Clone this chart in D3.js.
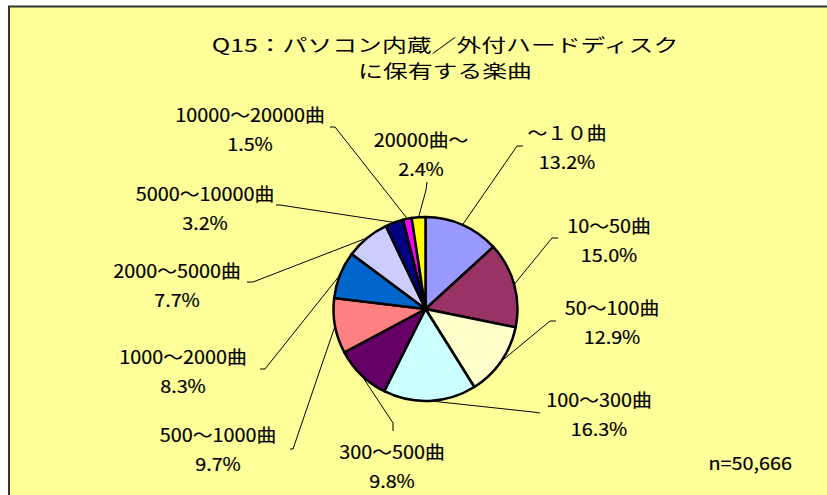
<!DOCTYPE html>
<html>
<head>
<meta charset="utf-8">
<script src="https://cdn.jsdelivr.net/npm/d3@7"></script>
<style>
  body { margin: 0; background: #fff; }
  text { font-family: "Noto Sans CJK JP", "Noto Sans", sans-serif; fill: #000; }
</style>
</head>
<body>
<svg id="chart" width="827" height="495"></svg>
<script>
// 区分と構成比（%）
const categories = ["～１０曲", "10～50曲", "50～100曲", "100～300曲", "300～500曲",
  "500～1000曲", "1000～2000曲", "2000～5000曲", "5000～10000曲", "10000～20000曲", "20000曲～"];
const shares = [13.2, 15.0, 12.9, 16.3, 9.8, 9.7, 8.3, 7.7, 3.2, 1.5, 2.4];
const sliceColors = ["#9999FF", "#993366", "#FFFFCC", "#CCFFFF", "#660066",
  "#FF8080", "#0066CC", "#CCCCFF", "#000080", "#FF00FF", "#FFFF00"];
const titleLines = ["Q15：パソコン内蔵／外付ハードディスク", "に保有する楽曲"];
const sampleNote = "n=50,666";

// ラベル位置（中心x, 1行目y）と引き出し線の折れ点
const labelPos = [
  [567, 140, [[523, 146], [517, 146]]],
  [609, 233, [[558, 238], [552, 238]]],
  [612, 315, [[556, 321], [550, 321]]],
  [599, 407, [[540, 413], [533, 412]]],
  [392, 459, [[393, 431], [393, 423]]],
  [218, 442, [[290, 449], [293, 449]]],
  [183, 364, [[260, 369], [265, 369]]],
  [177, 278, [[247, 282], [253, 282]]],
  [205, 201, [[276, 205], [280, 205]]],
  [250, 122, [[330, 127], [335, 127]]],
  [421, 147, [[427, 182], [426, 190]]]
];

const svg = d3.select("#chart");
const cx = 425.5, cy = 309, r = 92;
const labelScale = 1.1, titleScale = 1.38;

// 背景（枠）
svg.append("rect")
  .attr("x", 9).attr("y", 6.5)
  .attr("width", 840).attr("height", 500)
  .attr("fill", "#FFFF99")
  .attr("stroke", "#333").attr("stroke-width", 2);

// タイトル
svg.selectAll("text.title")
  .data(titleLines)
  .join("text")
  .attr("class", "title")
  .attr("text-anchor", "middle")
  .attr("font-size", 18)
  .attr("transform", (d, i) => `translate(445, ${52 + i * 26}) scale(${titleScale},1)`)
  .text(d => d);

// 円グラフ
const pie = d3.pie().sort(null).value(d => d)
  .startAngle(0).endAngle(2 * Math.PI);
const arcs = pie(shares);
const arc = d3.arc().innerRadius(0).outerRadius(r);
const edgeArc = d3.arc().innerRadius(r).outerRadius(r);

const g = svg.append("g").attr("transform", `translate(${cx},${cy})`);
g.selectAll("path")
  .data(arcs)
  .join("path")
  .attr("d", arc)
  .attr("fill", (d, i) => sliceColors[i])
  .attr("stroke", "#000")
  .attr("stroke-width", 2.5)
  .attr("stroke-linejoin", "round");

// 引き出し線
const line = d3.line();
svg.selectAll("path.leader")
  .data(arcs)
  .join("path")
  .attr("class", "leader")
  .attr("fill", "none")
  .attr("stroke", "#000")
  .attr("stroke-width", 1)
  .attr("d", (d, i) => {
    const c = edgeArc.centroid(d);
    return line(labelPos[i][2].concat([[cx + c[0], cy + c[1]]]));
  });

// ラベル（区分名と％）
const labels = svg.selectAll("g.label")
  .data(arcs)
  .join("g")
  .attr("class", "label")
  .attr("transform", (d, i) => `translate(${labelPos[i][0]},${labelPos[i][1]})`);

labels.append("text")
  .attr("text-anchor", "middle")
  .attr("font-size", 18)
  .attr("stroke", "#000").attr("stroke-width", 0.2)
  .attr("transform", `scale(${labelScale},1)`)
  .text((d, i) => categories[i]);

labels.append("text")
  .attr("text-anchor", "middle")
  .attr("font-size", 18)
  .attr("stroke", "#000").attr("stroke-width", 0.2)
  .attr("y", 29)
  .attr("transform", `scale(${labelScale},1)`)
  .text(d => d3.format(".1f")(d.data) + "%");

svg.append("text")
  .attr("text-anchor", "end")
  .attr("font-size", 18)
  .attr("stroke", "#000").attr("stroke-width", 0.2)
  .attr("transform", `translate(792, 470) scale(${labelScale},1)`)
  .text(sampleNote);
</script>
</body>
</html>
